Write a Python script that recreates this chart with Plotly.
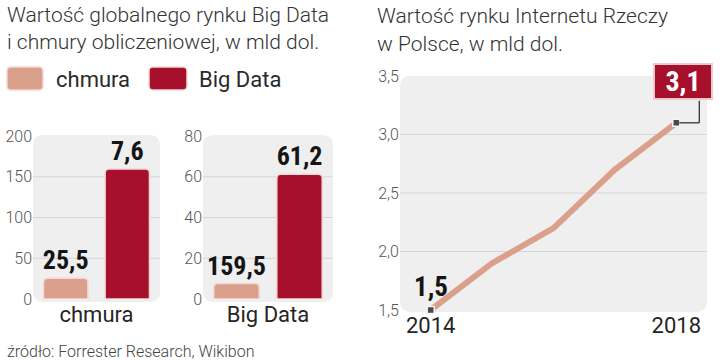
import plotly.graph_objects as go

W, H = 720, 360

# ---------------- data ----------------
groups = ["chmura", "Big Data"]            # category of each small bar chart
series_names = ["chmura", "Big Data"]
chmura_values = [25.5, 7.6]
bigdata_values = [159.5, 61.2]
chmura_labels = ["25,5", "159,5"]
bigdata_labels = ["7,6", "61,2"]
bar_y_ticks = [[0, 50, 100, 150, 200], [0, 20, 40, 60, 80]]

iot_years = [2014, 2015, 2016, 2017, 2018]
iot_values = [1.5, 1.9, 2.2, 2.7, 3.1]
iot_y_ticks = [1.5, 2.0, 2.5, 3.0, 3.5]
iot_x_ticks = [2014, 2018]

# ---------------- styles ----------------
C_CHMURA = "#dba08b"
C_BIG = "#a6102c"
C_EDGE = "#f3d8d3"
BG = "#efeff0"
GRID = "#d6d6d6"
LIGHT = "Roboto"
BOLDC = "Roboto Condensed, Liberation Sans Narrow, DejaVu Sans Condensed, Roboto"

# subplot boxes in pixels: (x0, x1, y_top, y_bottom)
boxes = [(33, 160, 136, 299), (203, 333, 136, 299), (400, 707, 76, 310)]


def dom(b):
    x0, x1, yt, yb = b
    return [x0 / W, x1 / W], [1 - yb / H, 1 - yt / H]


def rrect(x0, y0, x1, y1, r):
    def P(x, y):
        return f"{x / W:.5f},{1 - y / H:.5f}"
    return (f"M{P(x0 + r, y0)} L{P(x1 - r, y0)} Q{P(x1, y0)} {P(x1, y0 + r)} "
            f"L{P(x1, y1 - r)} Q{P(x1, y1)} {P(x1 - r, y1)} L{P(x0 + r, y1)} "
            f"Q{P(x0, y1)} {P(x0, y1 - r)} L{P(x0, y0 + r)} Q{P(x0, y0)} {P(x0 + r, y0)} Z")


fig = go.Figure()

# ---------------- bar charts ----------------
for i, g in enumerate(groups):
    xa = "x" if i == 0 else f"x{i + 1}"
    ya = "y" if i == 0 else f"y{i + 1}"
    for name, vals, labs, col in [(series_names[0], chmura_values, chmura_labels, C_CHMURA),
                                  (series_names[1], bigdata_values, bigdata_labels, C_BIG)]:
        fig.add_trace(go.Bar(
            x=[g], y=[vals[i]], name=name, text=[labs[i]],
            textposition="outside", constraintext="none", cliponaxis=False,
            textfont=dict(family=BOLDC, size=26, color="#151515", weight="bold"),
            marker=dict(color=col, line=dict(color=C_EDGE, width=1.5)),
            xaxis=xa, yaxis=ya, showlegend=False, hoverinfo="skip",
        ))

# ---------------- line chart ----------------
fig.add_trace(go.Scatter(
    x=iot_years, y=iot_values, mode="lines",
    line=dict(color=C_CHMURA, width=6), xaxis="x3", yaxis="y3",
    showlegend=False, hoverinfo="skip", cliponaxis=False,
))

# ---------------- axes ----------------
tickfont_y = dict(family=LIGHT, size=16, color="#555555", weight=300)
tickfont_x = dict(family=LIGHT, size=22, color="#252525")
layout_axes = {}
for i in range(3):
    xd, yd = dom(boxes[i])
    sx = "" if i == 0 else str(i + 1)
    layout_axes[f"xaxis{sx}"] = dict(domain=xd, anchor=f"y{sx}", showgrid=False, zeroline=False,
                                     showline=False, ticks="", tickfont=tickfont_x, fixedrange=True,
                                     automargin=False)
    layout_axes[f"yaxis{sx}"] = dict(domain=yd, anchor=f"x{sx}", showgrid=False, zeroline=False,
                                     showline=False, ticks="", tickfont=tickfont_y, fixedrange=True,
                                     automargin=False)

layout_axes["xaxis"].update(type="category")
layout_axes["xaxis2"].update(type="category")
layout_axes["yaxis"].update(range=[bar_y_ticks[0][0], bar_y_ticks[0][-1]], tickvals=bar_y_ticks[0])
layout_axes["yaxis2"].update(range=[bar_y_ticks[1][0], bar_y_ticks[1][-1]], tickvals=bar_y_ticks[1])
layout_axes["xaxis3"].update(range=[iot_years[0] - 0.5, iot_years[-1] + 0.5], tickvals=iot_x_ticks,
                             ticktext=[str(t) for t in iot_x_ticks])
layout_axes["yaxis3"].update(range=[iot_y_ticks[0], iot_y_ticks[-1]], tickvals=iot_y_ticks,
                             tickformat=".1f")

# ---------------- shapes ----------------
shapes = []
bg_ext = [(33, 160, 135, 302), (203, 333, 135, 302), (400, 707, 76, 312)]
for (x0, x1, y0, y1) in bg_ext:
    shapes.append(dict(type="path", xref="paper", yref="paper", path=rrect(x0, y0, x1, y1, 11),
                       fillcolor=BG, line=dict(width=0), layer="below"))
for sx, ticks in [("", bar_y_ticks[0]), ("2", bar_y_ticks[1]), ("3", iot_y_ticks)]:
    for v in ticks[1:-1]:
        shapes.append(dict(type="line", xref=f"x{sx} domain", yref=f"y{sx}", x0=0, x1=1, y0=v, y1=v,
                           line=dict(color=GRID, width=1), layer="below"))
# elbow connector for the final value (pixel offsets from the last point)
for (ax0, ay0, ax1, ay1) in [(3, 0, 23, 0), (23, 0, 23, 22)]:
    shapes.append(dict(type="line", xref="x3", yref="y3", xsizemode="pixel", ysizemode="pixel",
                       xanchor=iot_years[-1], yanchor=iot_values[-1],
                       x0=ax0, y0=ay0, x1=ax1, y1=ay1, line=dict(color="#333333", width=1.3)))
# legend swatches
for (x0, x1), col in [((7, 43), C_CHMURA), ((149, 187), C_BIG)]:
    shapes.append(dict(type="path", xref="paper", yref="paper", path=rrect(x0, 67, x1, 90, 4),
                       fillcolor=col, line=dict(color=C_EDGE, width=1.5)))

# end markers drawn on top of the connector
fig.add_trace(go.Scatter(
    x=[iot_years[0], iot_years[-1]], y=[iot_values[0], iot_values[-1]], mode="markers",
    marker=dict(symbol="square", size=7, color="#4a4a4a", line=dict(color="#f4f4f4", width=1.5)),
    xaxis="x3", yaxis="y3", showlegend=False, hoverinfo="skip", cliponaxis=False,
))

# ---------------- annotations ----------------
ann = []


def txt(x, y, s, size, color="#333333", weight=300, family=LIGHT, xanchor="left"):
    ann.append(dict(x=x / W, y=1 - y / H, xref="paper", yref="paper", text=s, showarrow=False,
                    xanchor=xanchor, yanchor="middle",
                    font=dict(family=family, size=size, color=color, weight=weight)))


txt(5, 15, "Wartość globalnego rynku Big Data", 21)
txt(5, 42, "i chmury obliczeniowej, w mld dol.", 21)
txt(375, 16, "Wartość rynku Internetu Rzeczy", 21)
txt(375, 44, "w Polsce, w mld dol.", 21)
txt(54, 79, series_names[0], 22, color="#2a2a2a", weight=400)
txt(197, 79, series_names[1], 22, color="#2a2a2a", weight=400)
txt(5, 351, "źródło: Forrester Research, Wikibon", 16, color="#444444")

ann.append(dict(x=iot_years[0], y=iot_values[0], xref="x3", yref="y3",
                text=f"{iot_values[0]:.1f}".replace(".", ","), showarrow=False,
                yanchor="bottom", yshift=5,
                font=dict(family=BOLDC, size=27, color="#151515", weight="bold")))
ann.append(dict(x=iot_years[-1], y=iot_values[-1], xref="x3", yref="y3",
                text=f"{iot_values[-1]:.1f}".replace(".", ","), showarrow=False,
                xshift=7, yshift=41, bgcolor=C_BIG, bordercolor="#f2c9c9", borderwidth=2,
                borderpad=2, width=52, height=29,
                font=dict(family=BOLDC, size=28, color="white", weight="bold")))

fig.update_layout(
    width=W, height=H, margin=dict(l=0, r=0, t=0, b=0, autoexpand=False),
    paper_bgcolor="white", plot_bgcolor="rgba(0,0,0,0)",
    barmode="group", bargap=0.03, bargroupgap=0.28, barcornerradius=4,
    separators=",.", shapes=shapes, annotations=ann, showlegend=False,
    **layout_axes,
)

fig.write_html("out.html", config={"displayModeBar": False},
               post_script="document.body.style.margin='0';document.body.style.overflow='hidden';")
